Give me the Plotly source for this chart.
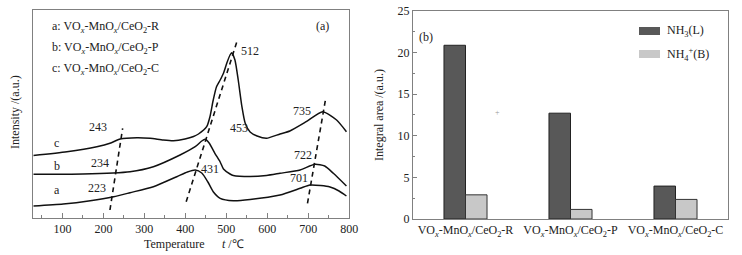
import plotly.graph_objects as go

W, H = 742, 255
FONT = "Liberation Serif, Times New Roman, serif"
TXT = "#222222"
AX = "#808080"

# ---------------- Panel (a): NH3-TPD curves ----------------
temp_a = [29, 102, 168, 225, 265, 322, 379, 405, 424, 440, 455, 468, 485, 517,
          558, 631, 680, 704, 730, 753, 775, 793]
int_a = [12, 14, 17.3, 21.3, 25.3, 31.3, 41.3, 46, 48, 45, 36, 26.3, 19.7, 17.3,
         18.5, 23, 29.7, 33, 32.5, 31, 27, 22]

temp_b = [29, 150, 265, 322, 387, 424, 440, 448, 458, 472, 485, 493, 509, 517,
          558, 598, 631, 680, 716, 740, 761, 793]
int_b = [43.7, 44, 46.3, 51.3, 63, 71.3, 77, 78.7, 75, 64.7, 56, 49, 44, 42.5,
         41.5, 42.5, 44.7, 48, 53.7, 52, 44.7, 32]

temp_c = [29, 111, 184, 216, 241, 282, 314, 346, 371, 399, 420, 432, 452, 460,
          468, 476, 485, 493, 501, 509, 513, 521, 529, 538, 546, 558, 575, 598,
          631, 655, 695, 735, 769, 793]
int_c = [62.5, 66.3, 71.3, 74.7, 79, 80.3, 79.7, 78, 77.3, 79, 81.5, 84, 91.3, 101.3,
         118, 131.3, 138, 144.7, 154.7, 163, 165.3, 158, 138, 111.3, 94.7, 86, 82, 79.7,
         84, 87, 96.3, 106.3, 98, 86.3]

# guide (dashed) lines through the peak maxima
guide1_t = [216, 247]
guide1_i = [8, 89.7]
guide2_t = [402, 527]
guide2_i = [16.3, 178]
guide3_t = [698, 742]
guide3_i = [14.7, 118.7]

# peak labels
peak_labels = ["243", "234", "223", "512", "453", "431", "735", "722", "701"]
peak_label_t = [187, 192, 185, 558, 530, 460, 684, 688, 677]
peak_label_i = [91, 54.7, 29.7, 166.7, 90, 48.7, 107, 63, 39.7]
curve_names = ["a", "b", "c"]
curve_name_t = [86, 88, 86]
curve_name_i = [28, 52, 74.7]

sample_legend = [
    "a: VO<sub><i>x</i></sub>-MnO<sub><i>x</i></sub>/CeO<sub>2</sub>-R",
    "b: VO<sub><i>x</i></sub>-MnO<sub><i>x</i></sub>/CeO<sub>2</sub>-P",
    "c: VO<sub><i>x</i></sub>-MnO<sub><i>x</i></sub>/CeO<sub>2</sub>-C",
]

temp_ticks = [100, 200, 300, 400, 500, 600, 700, 800]

# ---------------- Panel (b): integral areas ----------------
catalysts = [
    "VO<sub><i>x</i></sub>-MnO<sub><i>x</i></sub>/CeO<sub>2</sub>-R",
    "VO<sub><i>x</i></sub>-MnO<sub><i>x</i></sub>/CeO<sub>2</sub>-P",
    "VO<sub><i>x</i></sub>-MnO<sub><i>x</i></sub>/CeO<sub>2</sub>-C",
]
nh3_L = [20.85, 12.7, 3.95]
nh4_B = [2.9, 1.15, 2.35]
area_ticks = [0, 5, 10, 15, 20, 25]

DARK = "#585858"
LIGHT = "#c8c8c8"

fig = go.Figure()

for t, i in [(temp_a, int_a), (temp_b, int_b), (temp_c, int_c)]:
    fig.add_trace(go.Scatter(x=t, y=i, mode="lines", line=dict(color="#111111", width=1.5,
                             shape="spline", smoothing=0.6),
                             showlegend=False, hoverinfo="skip", xaxis="x", yaxis="y"))
for t, i in [(guide1_t, guide1_i), (guide2_t, guide2_i), (guide3_t, guide3_i)]:
    fig.add_trace(go.Scatter(x=t, y=i, mode="lines",
                             line=dict(color="#111111", width=1.6, dash="5px,4px"),
                             showlegend=False, hoverinfo="skip", xaxis="x", yaxis="y"))

fig.add_trace(go.Bar(x=catalysts, y=nh3_L, name="NH3(L)", marker=dict(color=DARK,
                     line=dict(color="#222222", width=1)), showlegend=False,
                     hoverinfo="skip", xaxis="x2", yaxis="y2"))
fig.add_trace(go.Bar(x=catalysts, y=nh4_B, name="NH4+(B)", marker=dict(color=LIGHT,
                     line=dict(color="#333333", width=1)), showlegend=False,
                     hoverinfo="skip", xaxis="x2", yaxis="y2"))

def px_x(p):
    return p / W

def px_y(p):
    return (H - p) / H

tickfont = dict(family=FONT, size=12, color=TXT)

fig.update_layout(
    width=W, height=H, autosize=False,
    margin=dict(l=0, r=0, t=0, b=0, autoexpand=False),
    paper_bgcolor="white", plot_bgcolor="white",
    barmode="group", bargap=0.59, bargroupgap=0, showlegend=False,
    font=dict(family=FONT, size=12, color=TXT),
    xaxis=dict(domain=[px_x(33.3), px_x(349.3)], range=[29, 800], anchor="y",
               tickvals=temp_ticks, ticks="inside", ticklen=5, tickcolor=AX,
               minor=dict(dtick=50, tick0=0, ticks="inside", ticklen=3, tickcolor=AX),
               showline=True, linecolor=AX, linewidth=1, mirror=True, automargin=False,
               showgrid=False, zeroline=False, tickfont=tickfont),
    yaxis=dict(domain=[px_y(218), px_y(10)], range=[0, 208], anchor="x",
               showticklabels=False, ticks="", showline=True, linecolor=AX,
               linewidth=1, mirror=True, showgrid=False, zeroline=False, automargin=False),
    xaxis2=dict(domain=[px_x(413), px_x(728)], range=[-0.5, 2.5], anchor="y2",
                type="category", ticks="", showline=True, linecolor=AX, linewidth=1,
                mirror=True, showgrid=False, zeroline=False, tickfont=tickfont,
                automargin=False),
    yaxis2=dict(domain=[px_y(219), px_y(10.7)], range=[0, 25], anchor="x2",
                tickvals=area_ticks, ticks="inside", ticklen=4, tickcolor=AX,
                minor=dict(dtick=2.5, tick0=0, ticks="inside", ticklen=2, tickcolor=AX),
                showline=True, linecolor=AX, linewidth=1, mirror=True, automargin=False,
                showgrid=False, zeroline=False, tickfont=tickfont),
)

def note(x, y, text, xref="paper", yref="paper", size=12, color=TXT, xanchor="center",
         angle=0):
    return dict(x=x, y=y, xref=xref, yref=yref, text=text, showarrow=False,
                xanchor=xanchor, yanchor="middle", textangle=angle,
                font=dict(family=FONT, size=size, color=color))

ann = []
for txt, t, i in zip(peak_labels, peak_label_t, peak_label_i):
    ann.append(note(t, i, txt, "x", "y"))
for txt, t, i in zip(curve_names, curve_name_t, curve_name_i):
    ann.append(note(t, i, txt, "x", "y"))
for k, txt in enumerate(sample_legend):
    ann.append(note(px_x(49.5), px_y(27 + 21 * k), txt, xanchor="left"))
ann.append(note(px_x(322), px_y(26), "(a)"))
ann.append(note(px_x(174), px_y(244), "Temperature"))
ann.append(note(px_x(233), px_y(244), "<i>t</i> /\u2103"))
ann.append(note(px_x(15), px_y(112), "Intensity /(a.u.)", angle=-90))
ann.append(note(px_x(379), px_y(115), "Integral area /(a.u.)", angle=-90))
ann.append(note(px_x(426), px_y(37), "(b)"))
ann.append(note(px_x(665), px_y(31), "NH<sub>3</sub>(L)", xanchor="left"))
ann.append(note(px_x(665), px_y(54), "NH<sub>4</sub><sup>+</sup>(B)", xanchor="left"))
ann.append(note(px_x(497), px_y(112), "+", size=8, color="#999999"))
fig.update_layout(annotations=ann)

shapes = [
    dict(type="rect", xref="paper", yref="paper", x0=px_x(639), x1=px_x(660),
         y0=px_y(35), y1=px_y(27), fillcolor=DARK, line=dict(width=0)),
    dict(type="rect", xref="paper", yref="paper", x0=px_x(639), x1=px_x(660),
         y0=px_y(58), y1=px_y(50), fillcolor=LIGHT, line=dict(width=0)),
]
fig.update_layout(shapes=shapes)

fig.write_html("out.html", config={"displayModeBar": False, "responsive": False},
               post_script="document.body.style.margin='0';document.body.style.overflow='hidden';")
